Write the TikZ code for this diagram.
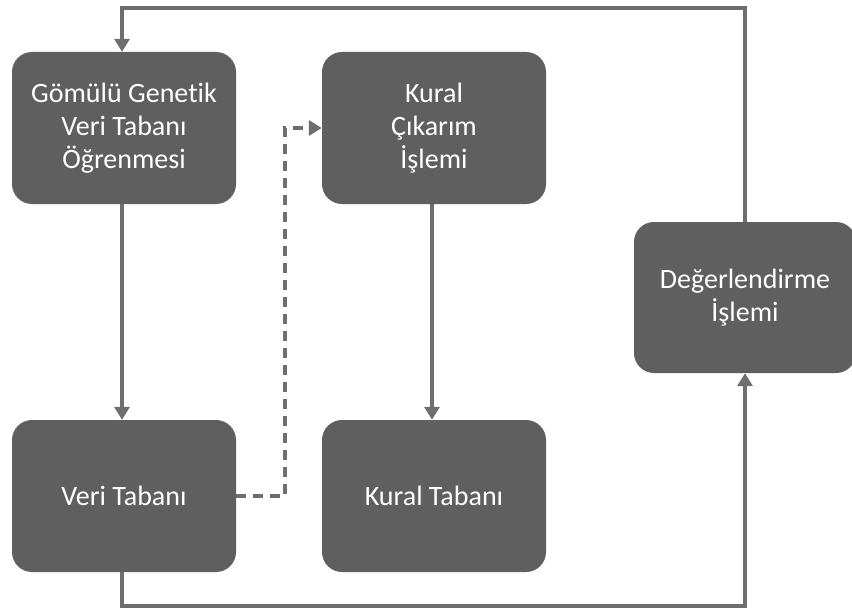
\documentclass[tikz,border=0pt]{standalone}
\usepackage{fontspec}
\setmainfont{Carlito}[Ligatures=NoCommon]
\usetikzlibrary{arrows.meta}
\definecolor{boxfill}{HTML}{5F5F5F}
\definecolor{linegray}{HTML}{6E6E6E}
\tikzset{
  procbox/.style={draw=none, fill=boxfill, rounded corners=20pt, text=white,
    minimum width=224pt, minimum height=152pt, align=center, inner sep=0pt,
    font=\fontsize{28}{33}\selectfont},
  link/.style={draw=linegray, line width=3.6pt, -{Triangle[length=13pt,width=15pt]}},
  dashlink/.style={link, dash pattern=on 10pt off 7pt}
}
\begin{document}
\begin{tikzpicture}[x=1pt,y=-1pt]
  \useasboundingbox (0,0) rectangle (852,610);
  \node[procbox] (gen) at (124,128) {Gömülü Genetik\\Veri Tabanı\\Öğrenmesi};
  \node[procbox] (inf) at (434,128) {Kural\\Çıkarım\\İşlemi};
  \node[procbox] (db) at (124,496) {Veri Tabanı};
  \node[procbox] (rb) at (434,496) {Kural Tabanı};
  \node[procbox, minimum width=222pt, minimum height=151pt] (ev) at (745,297.5) {Değerlendirme\\İşlemi};
  \coordinate (dx) at (285,0);
  \coordinate (bot) at (0,606);
  \coordinate (top) at (0,8);
  \draw[link] (gen.south -| 122,0) -- (db.north -| 122,0);
  \draw[link] (inf.south -| 432,0) -- (rb.north -| 432,0);
  \draw[dashlink] (db.east) -- (db.east -| dx) -- (inf.west -| dx) -- (inf.west);
  \draw[link] (db.south -| 122,0) -- (bot -| 122,0) -- (bot -| ev.south) -- (ev.south);
  \draw[link] (ev.north) -- (top -| ev.north) -- (top -| 122,0) -- (gen.north -| 122,0);
\end{tikzpicture}
\end{document}
